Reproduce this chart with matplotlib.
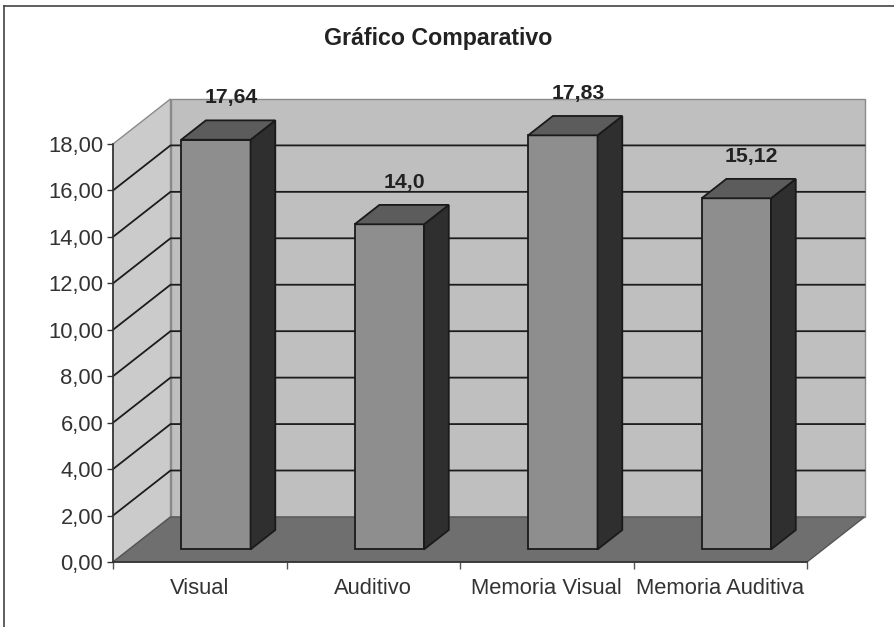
import numpy as np
import matplotlib
matplotlib.use('Agg')
import matplotlib.pyplot as plt
from matplotlib.patches import Polygon
from matplotlib.lines import Line2D

plt.rcParams['font.family'] = ['Liberation Sans', 'DejaVu Sans']

categorias = ['Visual', 'Auditivo', 'Memoria Visual', 'Memoria Auditiva']
valores = [17.64, 14.0, 17.83, 15.12]
rotulos = ['17,64', '14,0', '17,83', '15,12']
escala = [0, 2, 4, 6, 8, 10, 12, 14, 16, 18]
escala_txt = ['0,00', '2,00', '4,00', '6,00', '8,00', '10,00', '12,00', '14,00', '16,00', '18,00']

W, H = 894, 627
DX = 57.5 / 173.5   # profundidade do grafico em unidades de categoria
DY = 45 / 23.2      # profundidade em unidades de valor
LARG = 0.40         # largura da barra
B_INI = 0.28        # frente da barra, fracao da profundidade
B_FIM = 0.71        # fundo da barra

fig = plt.figure(figsize=(W / 100, H / 100), dpi=100, facecolor='white')
ax = fig.add_axes([113 / W, (H - 562) / H, 694 / W, 418 / H])
ax.set_xlim(0, 4)
ax.set_ylim(0, 18)
ax.patch.set_alpha(0)

# paredes e chao
ax.add_patch(Polygon([(DX, DY), (4 + DX, DY), (4 + DX, 18 + DY), (DX, 18 + DY)], closed=True,
                     facecolor='#bfbfbf', edgecolor='#8a8a8a', lw=1, clip_on=False, zorder=1))
ax.add_patch(Polygon([(0, 0), (DX, DY), (DX, 18 + DY), (0, 18)], closed=True,
                     facecolor='#cbcbcb', edgecolor='#8a8a8a', lw=1, clip_on=False, zorder=1))
ax.add_patch(Polygon([(0, 0), (4, 0), (4 + DX, DY), (DX, DY)], closed=True,
                     facecolor='#6f6f6f', edgecolor='#555555', lw=1, clip_on=False, zorder=2))

# linhas de grade
for v in escala[1:-1]:
    ax.plot([0, DX, 4 + DX], [v, v + DY, v + DY], color='#1c1c1c', lw=1.3, clip_on=False, zorder=3)

# barras
for i, v in enumerate(valores):
    x0 = i + 0.5 - LARG / 2 + B_INI * DX
    x1 = x0 + LARG
    y0 = B_INI * DY
    px = (B_FIM - B_INI) * DX
    py = (B_FIM - B_INI) * DY
    ax.add_patch(Polygon([(x0, y0), (x1, y0), (x1, y0 + v), (x0, y0 + v)], closed=True,
                         facecolor='#8e8e8e', edgecolor='#1a1a1a', lw=1.3, clip_on=False, zorder=5))
    ax.add_patch(Polygon([(x1, y0), (x1 + px, y0 + py), (x1 + px, y0 + py + v), (x1, y0 + v)], closed=True,
                         facecolor='#2f2f2f', edgecolor='#1a1a1a', lw=1.3, clip_on=False, zorder=5))
    ax.add_patch(Polygon([(x0, y0 + v), (x1, y0 + v), (x1 + px, y0 + py + v), (x0 + px, y0 + py + v)], closed=True,
                         facecolor='#5c5c5c', edgecolor='#1a1a1a', lw=1.3, clip_on=False, zorder=5))
    ax.text((x0 + x1) / 2 + px / 2 + 0.015, y0 + v + 1.8, rotulos[i], ha='center', va='center',
            fontsize=15.3, fontweight='bold', color='#222222', clip_on=False, zorder=6)

# eixos
for s in ['top', 'right']:
    ax.spines[s].set_visible(False)
for s in ['left', 'bottom']:
    ax.spines[s].set_color('#333333')
    ax.spines[s].set_linewidth(1.2)
    ax.spines[s].set_zorder(4)
ax.set_yticks(escala)
ax.set_yticklabels(escala_txt)
ax.tick_params(axis='y', length=4.5, width=1, color='#333333', pad=2.5, labelsize=15.8, labelcolor='#333333')
ax.set_xticks(range(5))
ax.set_xticklabels([])
ax.tick_params(axis='x', which='major', length=5, width=1, color='#555555')
ax.set_xticks(np.arange(4) + 0.5, minor=True)
ax.set_xticklabels(categorias, minor=True)
ax.tick_params(axis='x', which='minor', length=0, pad=11.5, labelsize=15.8, labelcolor='#333333')

fig.text(438 / W, 1 - 38 / H, 'Gráfico Comparativo', ha='center', va='center',
         fontsize=16.7, fontweight='bold', color='#222222')

# moldura do grafico
fig.add_artist(Line2D([4 / W, 1], [1 - 6 / H, 1 - 6 / H], color='#444444', lw=1.2))
fig.add_artist(Line2D([4 / W, 4 / W], [0, 1 - 6 / H], color='#444444', lw=1.2))

fig.savefig('out.png', dpi=100)
